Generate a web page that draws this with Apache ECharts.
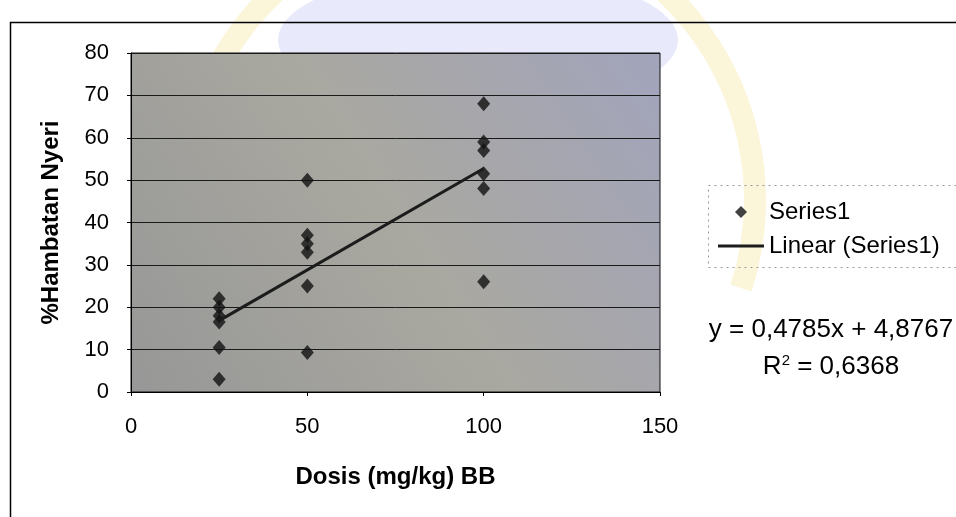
<!DOCTYPE html>
<html>
<head>
<meta charset="utf-8">
<script src="https://cdn.jsdelivr.net/npm/echarts@6/dist/echarts.min.js"></script>
<style>
  html, body { margin: 0; padding: 0; background: #fff; }
  #chart { width: 956px; height: 517px; }
</style>
</head>
<body>
<div id="chart"></div>
<script>
const dose25 = [22, 20, 18, 16.5, 10.5, 3];
const dose50 = [50, 37, 35, 33, 25, 9.3];
const dose100 = [68, 59, 57, 51.5, 48, 26];
const doses = [25, 50, 100];

// Excel trendline as printed on the chart
const slope = 0.4785;
const intercept = 4.8767;
const rSquared = '0,6368';

const xTicks = [0, 50, 100, 150];
const yTicks = [0, 10, 20, 30, 40, 50, 60, 70, 80];

const points = [];
[dose25, dose50, dose100].forEach(function (vals, i) {
  vals.forEach(function (v) { points.push([doses[i], v]); });
});
const trend = [
  [doses[0], intercept + slope * doses[0]],
  [doses[2], intercept + slope * doses[2]]
];

const font = 'Liberation Sans, Arial, sans-serif';
var myChart = echarts.init(document.getElementById('chart'));

var option = {
  backgroundColor: '#fff',
  animation: false,
  textStyle: { fontFamily: font },
  grid: {
    left: 131, right: 296, top: 53, bottom: 125,
    show: true,
    backgroundColor: new echarts.graphic.LinearGradient(1, 0, 0, 1, [
      { offset: 0, color: '#a2a4bc' },
      { offset: 0.5, color: '#a9a8a0' },
      { offset: 1, color: '#979797' }
    ]),
    borderColor: '#111',
    borderWidth: 1
  },
  xAxis: {
    type: 'value',
    min: xTicks[0], max: xTicks[xTicks.length - 1], interval: 50,
    name: 'Dosis (mg/kg) BB',
    nameLocation: 'middle',
    nameGap: 73,
    nameTextStyle: { fontSize: 24, fontWeight: 'bold', color: '#000', fontFamily: font },
    axisLine: { show: true, lineStyle: { color: '#000', width: 1 } },
    axisTick: { show: true, length: 4, lineStyle: { color: '#000' } },
    axisLabel: { fontSize: 22, color: '#000', margin: 24, fontFamily: font },
    splitLine: { show: false }
  },
  yAxis: {
    type: 'value',
    min: yTicks[0], max: yTicks[yTicks.length - 1], interval: 10,
    name: '%Hambatan Nyeri',
    nameLocation: 'middle',
    nameGap: 68,
    nameTextStyle: { fontSize: 24, fontWeight: 'bold', color: '#000', fontFamily: font },
    axisLine: { show: true, lineStyle: { color: '#000', width: 1 } },
    axisTick: { show: true, length: 4, lineStyle: { color: '#000' } },
    axisLabel: { fontSize: 22, color: '#000', margin: 22, fontFamily: font },
    splitLine: { show: true, lineStyle: { color: '#1a1a1a', width: 1 } }
  },
  legend: {
    orient: 'vertical',
    left: 713,
    top: 195,
    itemWidth: 46,
    itemHeight: 12,
    itemGap: 10,
    itemStyle: { borderWidth: 0 },
    textStyle: { fontSize: 24, color: '#000', fontFamily: font },
    data: [
      { name: 'Series1', icon: 'path://M5,0L10,5L5,10L0,5Z' },
      { name: 'Linear (Series1)', icon: 'path://M0,0H50V3H0Z' }
    ]
  },
  graphic: [
    // faint watermark behind the chart
    {
      type: 'ellipse',
      shape: { cx: 478, cy: 40, rx: 200, ry: 70 },
      style: { fill: '#e8eafb' },
      silent: true, z: -10
    },
    {
      type: 'arc',
      shape: { cx: 470, cy: 200, r: 285, startAngle: Math.PI * 1.05, endAngle: Math.PI * 2.1 },
      style: { fill: 'none', stroke: '#fbf5da', lineWidth: 22 },
      silent: true, z: -9
    },
    {
      type: 'rect',
      left: 8, top: 20,
      shape: { width: 1000, height: 600 },
      style: { fill: 'none', stroke: '#000', lineWidth: 1.5 },
      silent: true, z: -1
    },
    {
      type: 'rect',
      left: 706, top: 183,
      shape: { width: 260, height: 82 },
      style: { fill: 'none', stroke: '#999', lineWidth: 1, lineDash: [2, 4] },
      silent: true
    },
    {
      type: 'text',
      x: 831, y: 330,
      style: {
        text: 'y = 0,4785x + 4,8767', font: '26px ' + font, fill: '#000',
        align: 'center', verticalAlign: 'middle'
      }
    },
    {
      type: 'text',
      x: 831, y: 367,
      style: {
        text: 'R{sup|2} = ' + rSquared,
        font: '26px ' + font,
        fill: '#000',
        align: 'center', verticalAlign: 'middle',
        rich: { sup: { fontSize: 15, verticalAlign: 'top', padding: [0, 0, 12, 0], fontFamily: font } }
      }
    }
  ],
  series: [
    {
      name: 'Series1',
      type: 'scatter',
      data: points,
      symbol: 'diamond',
      symbolSize: [13, 15],
      itemStyle: { color: '#111' },
      z: 3
    },
    {
      name: 'Linear (Series1)',
      type: 'line',
      data: trend,
      showSymbol: false,
      symbol: 'none',
      lineStyle: { color: '#1c1c1c', width: 3 },
      itemStyle: { color: '#1c1c1c' },
      z: 4
    }
  ]
};

if (option && typeof option === 'object') {
  myChart.setOption(option, true);
}
</script>
</body>
</html>
